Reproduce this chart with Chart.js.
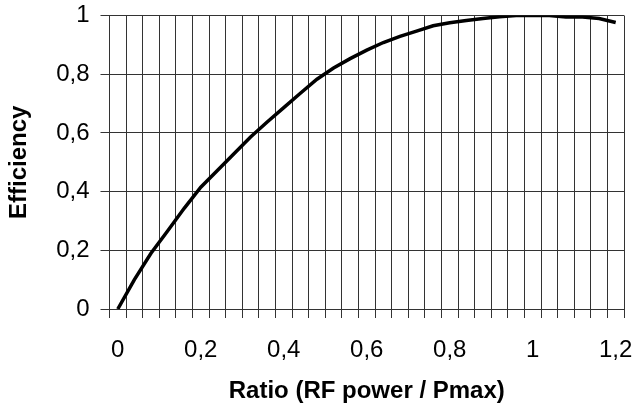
<!DOCTYPE html>
<html>
<head>
<meta charset="utf-8">
<script src="https://cdn.jsdelivr.net/npm/chart.js@4/dist/chart.umd.min.js"></script>
<style>
  html, body { margin: 0; padding: 0; background: #fff; }
  #wrap { width: 637px; height: 414px; }
</style>
</head>
<body>
<div id="wrap"><canvas id="effChart" width="637" height="414"></canvas></div>
<script>
// x categories: RF power / Pmax
const ratios = [0, 0.04, 0.08, 0.12, 0.16, 0.2, 0.24, 0.28, 0.32, 0.36,
  0.4, 0.44, 0.48, 0.52, 0.56, 0.6, 0.64, 0.68, 0.72, 0.76,
  0.8, 0.84, 0.88, 0.92, 0.96, 1, 1.04, 1.08, 1.12, 1.16, 1.2];

// efficiency
const efficiency = [0, 0.10, 0.19, 0.266, 0.343, 0.415, 0.472, 0.529, 0.586, 0.637,
  0.686, 0.735, 0.783, 0.821, 0.853, 0.882, 0.908, 0.929, 0.947, 0.965,
  0.975, 0.983, 0.99, 0.996, 1.0, 1.0, 1.0, 0.995, 0.995, 0.99, 0.976];

const xTickLabels = ['0', '0,2', '0,4', '0,6', '0,8', '1', '1,2'];

const FONT = "'Liberation Sans', Arial, sans-serif";
const gridColor = '#333';

const ctx = document.getElementById('effChart');
const effChart = new Chart(ctx, {
  type: 'line',
  data: {
    labels: ratios,
    datasets: [{
      label: 'Efficiency',
      data: efficiency,
      borderColor: '#000',
      borderWidth: 3.5,
      pointRadius: 0,
      tension: 0,
      fill: false,
    }],
  },
  options: {
    responsive: false,
    animation: false,
    layout: {
      padding: { top: 15.5, right: 13, bottom: 0, left: 0 },
    },
    plugins: {
      legend: { display: false },
      tooltip: { enabled: false },
    },
    scales: {
      x: {
        type: 'category',
        offset: true,
        grid: {
          offset: true,
          color: gridColor,
          lineWidth: 1,
          tickLength: 9,
        },
        border: { color: gridColor },
        ticks: {
          autoSkip: false,
          maxRotation: 0,
          padding: 18,
          color: '#000',
          font: { family: FONT, size: 24 },
          callback: (val, i) => (i % 5 === 0 ? xTickLabels[i / 5] : ''),
        },
        title: {
          display: true,
          text: 'Ratio (RF power / Pmax)',
          color: '#000',
          font: { family: FONT, size: 24, weight: 'bold' },
          padding: { top: 0, bottom: 8 },
        },
        afterFit: (scale) => {
          scale.height = 105;
          scale.paddingLeft = 0;
          scale.paddingRight = 0;
        },
      },
      y: {
        min: 0,
        max: 1,
        grid: {
          color: gridColor,
          lineWidth: 1,
          tickLength: 9,
        },
        border: { color: gridColor },
        ticks: {
          stepSize: 0.2,
          padding: 11,
          color: '#000',
          font: { family: FONT, size: 24 },
          callback: (v) => String(Math.round(v * 10) / 10).replace('.', ','),
        },
        title: {
          display: true,
          text: 'Efficiency',
          color: '#000',
          font: { family: FONT, size: 24, weight: 'bold' },
          padding: { top: 5, bottom: 0 },
        },
        afterFit: (scale) => {
          scale.width = 109.5;
          scale.paddingTop = 0;
          scale.paddingBottom = 0;
        },
      },
    },
  },
});
</script>
</body>
</html>
